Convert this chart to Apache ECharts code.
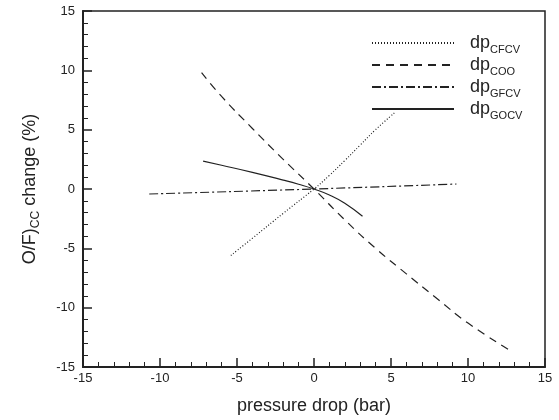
<!DOCTYPE html>
<html>
<head>
<meta charset="utf-8">
<script src="https://cdn.jsdelivr.net/npm/echarts@6/dist/echarts.min.js"></script>
<style>html,body{margin:0;padding:0;background:#fff}#c{width:559px;height:420px}</style>
</head>
<body>
<div id="c"></div>
<script>
var seriesNames = ['CFCV', 'COO', 'GFCV', 'GOCV'];
var xTicks = [-15, -10, -5, 0, 5, 10, 15];
var yTicks = [-15, -10, -5, 0, 5, 10, 15];

var cfcvX = [-5.4, -4, -2, 0, 1, 2, 3, 4, 5.3];
var cfcvY = [-5.6, -4.15, -2.05, 0, 1.15, 2.4, 3.7, 5.0, 6.5];

var cooX = [-7.3, -6, -4, -2, 0, 2, 4, 6, 8, 10, 12.6];
var cooY = [9.8, 7.8, 5.1, 2.5, 0, -2.6, -5.0, -7.15, -9.25, -11.3, -13.5];

var gfcvX = [-10.7, 0, 9.25];
var gfcvY = [-0.42, 0, 0.42];

var gocvX = [-7.2, -6, -4, -2, -1, 0, 1, 2, 3.15];
var gocvY = [2.35, 2.0, 1.4, 0.75, 0.4, 0, -0.5, -1.2, -2.3];

function pairs(xs, ys) { return xs.map(function (x, i) { return [x, ys[i]]; }); }

var FONT = '"Liberation Sans", Arial, Helvetica, sans-serif';
var INK = '#222';

var lineTypes = [[1, 2], [8, 6], [9, 3, 2, 3], 'solid'];
var dataSets = [pairs(cfcvX, cfcvY), pairs(cooX, cooY), pairs(gfcvX, gfcvY), pairs(gocvX, gocvY)];

var chart = echarts.init(document.getElementById('c'));
chart.setOption({
  animation: false,
  textStyle: { fontFamily: FONT },
  grid: { left: 83, right: 14, top: 11, bottom: 52, show: true, borderColor: INK, borderWidth: 1.5 },
  legend: {
    left: 366, top: 29, orient: 'vertical', itemWidth: 82, itemHeight: 14, itemGap: 1,
    itemStyle: { opacity: 0 },
    data: seriesNames.map(function (n) { return 'dp' + n; }),
    formatter: function (name) { return '{a|dp}{b|' + name.slice(2) + '}'; },
    textStyle: {
      padding: [0, 0, 0, 11],
      rich: {
        a: { fontSize: 18, fontFamily: FONT, color: INK, verticalAlign: 'top', lineHeight: 18 },
        b: { fontSize: 11, fontFamily: FONT, color: INK, verticalAlign: 'top', lineHeight: 11, padding: [10, 0, 0, 0] }
      }
    }
  },
  xAxis: {
    type: 'value', min: -15, max: 15, interval: 5,
    name: 'pressure drop (bar)', nameLocation: 'middle', nameGap: 30,
    nameTextStyle: { fontSize: 18, color: INK, fontFamily: FONT },
    axisLine: { show: true, onZero: false, lineStyle: { color: INK, width: 2 } },
    axisTick: { show: true, inside: true, length: 9, lineStyle: { color: INK, width: 1.5 } },
    minorTick: { show: true, splitNumber: 5, length: 5, lineStyle: { color: INK, width: 1 } },
    splitLine: { show: false },
    axisLabel: { fontSize: 13, color: INK, margin: 5,
      formatter: function (v) { return xTicks.indexOf(v) >= 0 ? String(v) : ''; } }
  },
  yAxis: {
    type: 'value', min: -15, max: 15, interval: 5,
    name: '{a|O/F)}{b|CC}{a| change (%)}', nameLocation: 'middle', nameGap: 44,
    nameTextStyle: {
      rich: {
        a: { fontSize: 18, fontFamily: FONT, color: INK, verticalAlign: 'top', lineHeight: 18 },
        b: { fontSize: 12, fontFamily: FONT, color: INK, verticalAlign: 'top', lineHeight: 12, padding: [9, 0, 0, 0] }
      }
    },
    axisLine: { show: true, onZero: false, lineStyle: { color: INK, width: 2 } },
    axisTick: { show: true, inside: true, length: 9, lineStyle: { color: INK, width: 1.5 } },
    minorTick: { show: true, splitNumber: 5, length: 5, lineStyle: { color: INK, width: 1 } },
    splitLine: { show: false },
    axisLabel: { fontSize: 13, color: INK, margin: 8,
      formatter: function (v) { return yTicks.indexOf(v) >= 0 ? String(v) : ''; } }
  },
  series: seriesNames.map(function (n, i) {
    return {
      name: 'dp' + n, type: 'line', data: dataSets[i], smooth: true,
      symbol: 'none', showSymbol: false,
      lineStyle: { color: INK, width: 1.2, type: lineTypes[i] }
    };
  })
});
</script>
</body>
</html>
